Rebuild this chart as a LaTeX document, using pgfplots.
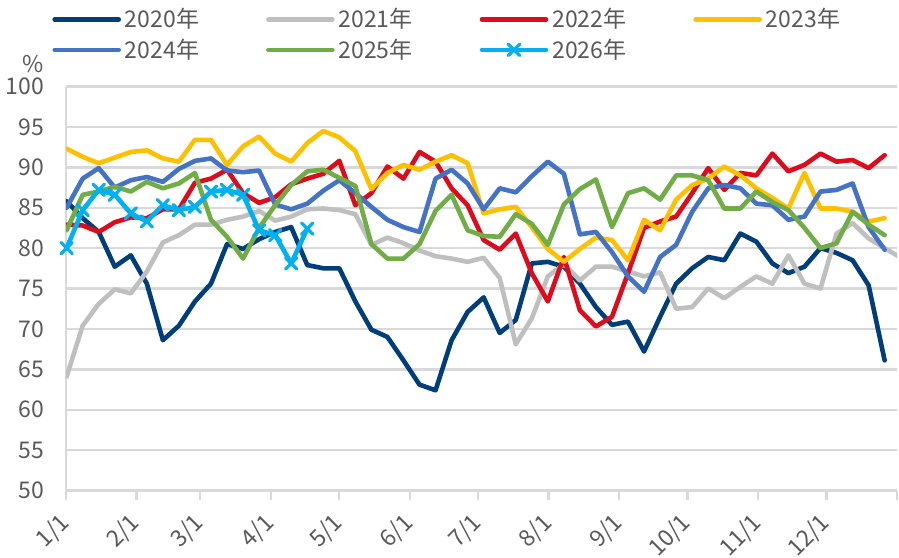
\documentclass[border=0pt]{standalone}
\usepackage{fontspec}
\setmainfont{Noto Sans CJK SC}
\usepackage{pgfplots}
\pgfplotsset{compat=1.18}
\definecolor{c2020}{RGB}{0,62,122}
\definecolor{c2021}{RGB}{191,191,191}
\definecolor{c2022}{RGB}{220,12,28}
\definecolor{c2023}{RGB}{255,192,0}
\definecolor{c2024}{RGB}{68,114,196}
\definecolor{c2025}{RGB}{112,173,71}
\definecolor{c2026}{RGB}{0,176,240}
\definecolor{gridgray}{RGB}{217,217,217}
\definecolor{txtgray}{RGB}{89,89,89}

\pgfplotstableread{
k y
0 85.8
1 83.7
2 82.0
3 77.7
4 79.1
5 75.6
6 68.6
7 70.4
8 73.4
9 75.6
10 80.5
11 79.9
12 81.1
13 82.0
14 82.6
15 77.9
16 77.5
17 77.5
18 73.4
19 69.9
20 69.0
21 66.1
22 63.1
23 62.4
24 68.6
25 72.1
26 73.9
27 69.5
28 71.1
29 78.1
30 78.3
31 77.7
32 75.6
33 72.7
34 70.5
35 70.9
36 67.2
37 71.5
38 75.6
39 77.5
40 78.9
41 78.5
42 81.8
43 80.8
44 78.1
45 76.9
46 77.7
47 80.0
48 79.4
49 78.5
50 75.4
51 66.1
}\tA
\pgfplotstableread{
k y
0 64.1
1 70.4
2 73.1
3 74.9
4 74.4
5 77.1
6 80.7
7 81.6
8 82.9
9 82.9
10 83.5
11 83.9
12 84.6
13 83.4
14 83.9
15 84.8
16 84.9
17 84.7
18 84.2
19 80.4
20 81.3
21 80.6
22 79.7
23 79.0
24 78.7
25 78.3
26 78.8
27 76.3
28 68.1
29 71.3
30 76.5
31 78.0
32 76.0
33 77.7
34 77.7
35 77.1
36 76.5
37 77.0
38 72.5
39 72.7
40 75.0
41 73.8
42 75.2
43 76.5
44 75.6
45 79.1
46 75.6
47 75.0
48 81.8
49 83.1
50 81.2
51 80.0
52 78.8
}\tB
\pgfplotstableread{
k y
0 82.9
1 82.8
2 82.0
3 83.2
4 83.8
5 83.7
6 84.8
7 84.8
8 88.1
9 88.6
10 89.7
11 86.8
12 85.6
13 86.3
14 87.9
15 88.6
16 89.2
17 90.8
18 85.3
19 86.8
20 90.1
21 88.6
22 91.9
23 90.7
24 87.4
25 85.3
26 81.0
27 79.8
28 81.8
29 76.9
30 73.4
31 78.9
32 72.3
33 70.3
34 71.5
35 76.9
36 82.5
37 83.3
38 83.9
39 86.8
40 89.9
41 87.2
42 89.3
43 89.0
44 91.7
45 89.5
46 90.3
47 91.7
48 90.7
49 90.9
50 89.9
51 91.5
}\tC
\pgfplotstableread{
k y
0 92.3
1 91.3
2 90.5
3 91.2
4 91.9
5 92.1
6 91.1
7 90.7
8 93.4
9 93.4
10 90.3
11 92.6
12 93.8
13 91.7
14 90.7
15 93.0
16 94.5
17 93.7
18 92.0
19 87.3
20 89.3
21 90.3
22 89.7
23 90.7
24 91.5
25 90.5
26 84.3
27 84.8
28 85.1
29 82.6
30 79.9
31 78.3
32 79.9
33 81.3
34 81.0
35 78.5
36 83.5
37 82.2
38 86.0
39 87.8
40 88.6
41 90.1
42 89.0
43 87.4
44 86.2
45 84.9
46 89.3
47 84.9
48 84.9
49 84.5
50 83.3
51 83.7
}\tD
\pgfplotstableread{
k y
0 85.0
1 88.6
2 89.9
3 87.5
4 88.4
5 88.8
6 88.2
7 89.8
8 90.8
9 91.1
10 89.6
11 89.4
12 89.6
13 85.4
14 84.8
15 85.5
16 87.1
17 88.4
18 86.8
19 85.1
20 83.5
21 82.6
22 82.0
23 88.6
24 89.7
25 88.0
26 84.8
27 87.4
28 86.9
29 88.9
30 90.7
31 89.2
32 81.7
33 82.0
34 79.5
35 76.5
36 74.6
37 78.9
38 80.4
39 84.5
40 87.4
41 87.8
42 87.4
43 85.5
44 85.3
45 83.5
46 83.9
47 87.0
48 87.2
49 88.0
50 82.6
51 79.8
}\tE
\pgfplotstableread{
k y
0 82.2
1 86.6
2 87.0
3 87.6
4 87.0
5 88.2
6 87.4
7 88.0
8 89.3
9 83.5
10 81.4
11 78.7
12 82.5
13 85.3
14 87.8
15 89.5
16 89.7
17 88.7
18 87.7
19 80.5
20 78.7
21 78.7
22 80.5
23 84.6
24 86.6
25 82.2
26 81.5
27 81.4
28 84.2
29 83.0
30 80.4
31 85.4
32 87.3
33 88.5
34 82.6
35 86.8
36 87.4
37 86.0
38 89.0
39 89.0
40 88.4
41 84.9
42 84.9
43 87.0
44 85.7
45 84.7
46 82.5
47 80.0
48 80.6
49 84.5
50 82.9
51 81.6
}\tF
\pgfplotstableread{
k y
0 80.0
1 84.7
2 87.2
3 86.6
4 84.3
5 83.3
6 85.3
7 84.7
8 85.1
9 87.0
10 87.2
11 86.6
12 82.2
13 81.6
14 78.1
15 82.4
}\tG

\begin{document}
\begin{tikzpicture}
\useasboundingbox (-33pt,-33.25pt) rectangle (416.5pt,245.25pt);
\begin{axis}[
  scale only axis, width=415.5pt, height=202pt,
  xmin=-0.04, xmax=51.77, ymin=50, ymax=100,
  ytick={50,55,...,100},
  ymajorgrids, grid style={line width=1.2pt, gridgray},
  axis x line*=bottom, axis y line*=left,
  axis line style={line width=1.2pt, gridgray, -},
  xtick={-0.04,4.36,8.33,12.73,16.99,21.39,25.65,30.05,34.45,38.71,43.11,47.37,51.77},
  xticklabels={1/1,2/1,3/1,4/1,5/1,6/1,7/1,8/1,9/1,10/1,11/1,12/1,},
  xtick style={line width=1.2pt, gridgray},
  major tick length=4.5pt,
  ytick style={draw=none},
  tick align=outside,
  /pgf/number format/assume math mode=true,
  ticklabel style={font=\fontsize{11.5}{13}\selectfont, text=txtgray},
  yticklabel style={xshift=-3pt},
  xticklabel style={rotate=45, anchor=north east, inner sep=1pt, xshift=-6pt, yshift=0pt},
  clip=true,
  every axis plot/.append style={line width=2.3pt, line join=round, line cap=round},
  legend columns=4,
  legend cell align=left,
  legend style={at={(0,1)}, anchor=south west, xshift=-10pt, yshift=8.5pt,
    draw=none, fill=none, font=\fontsize{11.5}{13}\selectfont, text=txtgray,
    row sep=0pt,
    /tikz/every even column/.append style={column sep=31.5pt}},
  legend image code/.code={\draw[mark repeat=2,mark phase=2,#1] plot coordinates {(0pt,0pt) (16pt,0pt) (32pt,0pt)};},
  extra description/.code={\node[font=\fontsize{11.5}{13}\selectfont, text=txtgray] at (rel axis cs:0,1) [xshift=-16.5pt, yshift=11pt] {\%};},
]
\addplot[c2020, no marks] table[x=k,y=y] {\tA};
\addlegendentry{2020年}
\addplot[c2021, no marks] table[x=k,y=y] {\tB};
\addlegendentry{2021年}
\addplot[c2022, no marks] table[x=k,y=y] {\tC};
\addlegendentry{2022年}
\addplot[c2023, no marks] table[x=k,y=y] {\tD};
\addlegendentry{2023年}
\addplot[c2024, no marks] table[x=k,y=y] {\tE};
\addlegendentry{2024年}
\addplot[c2025, no marks] table[x=k,y=y] {\tF};
\addlegendentry{2025年}
\addplot[c2026, mark=x, mark size=4pt, mark options={line width=1.6pt}] table[x=k,y=y] {\tG};
\addlegendentry{2026年}
\end{axis}
\end{tikzpicture}
\end{document}
